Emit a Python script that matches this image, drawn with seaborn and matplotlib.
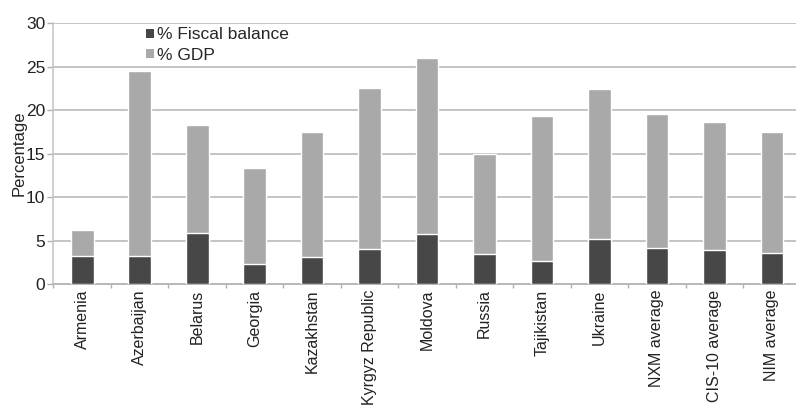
import matplotlib
matplotlib.use("Agg")
import matplotlib.pyplot as plt
from matplotlib.patches import Patch
from matplotlib.ticker import FixedLocator
import seaborn as sns
import pandas as pd

countries = ["Armenia", "Azerbaijan", "Belarus", "Georgia", "Kazakhstan",
             "Kyrgyz Republic", "Moldova", "Russia", "Tajikistan", "Ukraine",
             "NXM average", "CIS-10 average", "NIM average"]
gdp_total = [6.2, 24.5, 18.3, 13.3, 17.5, 22.6, 26.0, 15.0, 19.3, 22.4, 19.6, 18.6, 17.5]
fiscal_balance = [3.2, 3.2, 5.9, 2.3, 3.1, 4.05, 5.75, 3.45, 2.7, 5.15, 4.15, 3.9, 3.6]
y_ticks = [0, 5, 10, 15, 20, 25, 30]

DARK = "#474747"
LIGHT = "#a9a9a9"
GRID = "#c4c4c4"
TEXT = "#222222"

sns.set_theme(style="white")
plt.rcParams["font.family"] = ["Liberation Sans", "DejaVu Sans"]

df = pd.DataFrame({"country": countries, "gdp": gdp_total, "fiscal": fiscal_balance})

fig = plt.figure(figsize=(7.96, 4.09), dpi=100)
ax = fig.add_axes([0.0672, 0.3056, 0.9328, 0.6374])

sns.barplot(data=df, x="country", y="gdp", color=LIGHT, width=0.395,
            saturation=1, ax=ax, zorder=3)
sns.barplot(data=df, x="country", y="fiscal", color=DARK, width=0.395,
            saturation=1, ax=ax, zorder=4)

ax.set_xlim(-0.5, 12.42)
ax.set_ylim(0, 30)
ax.set_yticks(y_ticks)
ax.set_yticklabels([str(t) for t in y_ticks], fontsize=12.5, color=TEXT)
ax.yaxis.grid(True, color=GRID, linewidth=1.4, zorder=0)
ax.set_axisbelow(True)

ax.set_xticks(range(len(countries)))
ax.set_xticklabels(countries, rotation=90, fontsize=11.5, color=TEXT)
ax.tick_params(axis="x", length=0, pad=4)
ax.xaxis.set_minor_locator(FixedLocator([i + 0.5 for i in range(-1, len(countries))]))
ax.tick_params(axis="x", which="minor", length=3, width=1, color="#b0b0b0", bottom=True)
ax.tick_params(axis="y", length=4, width=1, color="#b0b0b0", left=True, pad=2)

ax.set_xlabel("")
ax.set_ylabel("Percentage", fontsize=12, color=TEXT, labelpad=-1)

for side in ["top", "right"]:
    ax.spines[side].set_visible(False)
ax.spines["left"].set_color("#c8c8c8")
ax.spines["left"].set_linewidth(1.2)
ax.spines["bottom"].set_color("#b8b8b8")
ax.spines["bottom"].set_linewidth(1.4)

handles = [Patch(facecolor=DARK, edgecolor="none", label="% Fiscal balance"),
           Patch(facecolor=LIGHT, edgecolor="none", label="% GDP")]
fig.legend(handles=handles, loc="upper left", bbox_to_anchor=(0.183, 0.933),
           frameon=False, fontsize=12.5, handlelength=0.46, handleheight=0.46,
           handletextpad=0.17, labelspacing=0.3, borderpad=0, borderaxespad=0)

fig.savefig("out.png", dpi=100)
